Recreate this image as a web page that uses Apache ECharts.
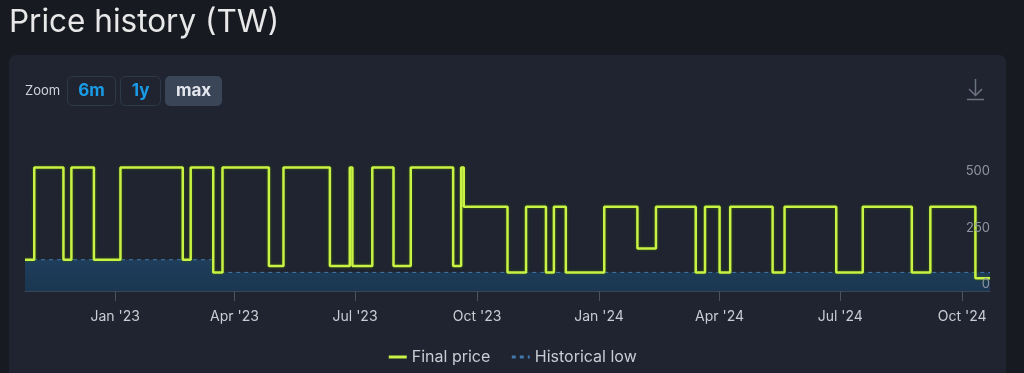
<!DOCTYPE html>
<html>
<head>
<meta charset="utf-8">
<style>
html,body{margin:0;padding:0;background:#171a21;}
#chart{width:1024px;height:373px;}
</style>
<script src="https://cdn.jsdelivr.net/npm/echarts@6/dist/echarts.min.js"></script>
</head>
<body>
<div id="chart"></div>
<script>
// ---- data ----
const priceDates = ['2022-10-25','2022-11-01','2022-11-23','2022-11-29','2022-12-16','2023-01-05','2023-02-21','2023-02-27','2023-03-16','2023-03-23',
  '2023-04-27','2023-05-08','2023-06-12','2023-06-27','2023-06-29','2023-07-14','2023-07-30','2023-08-12','2023-09-13','2023-09-19',
  '2023-09-21','2023-10-24','2023-11-07','2023-11-22','2023-11-28','2023-12-07','2024-01-05','2024-01-30','2024-02-13','2024-03-14',
  '2024-03-21','2024-04-01','2024-04-09','2024-05-11','2024-05-20','2024-06-28','2024-07-18','2024-08-24','2024-09-07','2024-10-11',
  '2024-10-22'];
const priceValues = [138,545,138,545,138,545,138,545,82,545,
  110,545,110,545,110,545,110,545,110,545,
  372,82,372,82,372,82,372,188,372,82,
  372,82,372,82,372,82,372,82,372,56,
  56];
const lowDates = ['2022-10-25','2023-03-16','2024-10-22'];
const lowValues = [138,82,82];
const tickDates = ['2023-01-01','2023-04-01','2023-07-01','2023-10-01','2024-01-01','2024-04-01','2024-07-01','2024-10-01'];
const tickLabels = ["Jan '23","Apr '23","Jul '23","Oct '23","Jan '24","Apr '24","Jul '24","Oct '24"];
const yTicks = [0,250,500];

function ts(s){const p=s.split('-').map(Number);return Date.UTC(p[0],p[1]-1,p[2]);}
const priceData = priceDates.map((d,i)=>[ts(d),priceValues[i]]);
const lowData = lowDates.map((d,i)=>[ts(d),lowValues[i]]);
const tickTs = tickDates.map(ts);

const FONT = 'Inter, "Noto Sans", sans-serif';
const chart = echarts.init(document.getElementById('chart'), null, {renderer:'canvas'});
chart.setOption({
  backgroundColor:'#171a21',
  animation:false,
  textStyle:{fontFamily:FONT},
  graphic:[
    {type:'rect', z:-10, shape:{x:9,y:55,width:997,height:340,r:7}, style:{fill:'#1f2430'}},
    {type:'text', z:10, x:9, y:23, style:{text:'Price history (TW)', font:'400 31.5px '+FONT, fill:'#e8e8e8', textVerticalAlign:'middle'}},
    {type:'text', z:10, x:25, y:91, style:{text:'Zoom', font:'400 13px '+FONT, fill:'#cfd3da', textVerticalAlign:'middle'}},
    {type:'rect', z:10, shape:{x:67.5,y:76.5,width:48,height:29,r:5}, style:{fill:'#1f2430', stroke:'#2e3a4a', lineWidth:1}},
    {type:'text', z:11, x:91.5, y:91, style:{text:'6m', font:'700 17px '+FONT, fill:'#1a9be6', textAlign:'center', textVerticalAlign:'middle'}},
    {type:'rect', z:10, shape:{x:120.5,y:76.5,width:40,height:29,r:5}, style:{fill:'#1f2430', stroke:'#2e3a4a', lineWidth:1}},
    {type:'text', z:11, x:140.5, y:91, style:{text:'1y', font:'700 17px '+FONT, fill:'#1a9be6', textAlign:'center', textVerticalAlign:'middle'}},
    {type:'rect', z:10, shape:{x:165,y:76,width:57,height:30,r:5}, style:{fill:'#3a4558'}},
    {type:'text', z:11, x:193.5, y:91, style:{text:'max', font:'700 17px '+FONT, fill:'#e4e8ee', textAlign:'center', textVerticalAlign:'middle'}},
    {type:'polyline', z:10, shape:{points:[[975.5,79],[975.5,95]]}, style:{stroke:'#6b7380', lineWidth:1.5, fill:null}},
    {type:'polyline', z:10, shape:{points:[[969,89],[975.5,95.5],[982,89]]}, style:{stroke:'#6b7380', lineWidth:1.5, fill:null}},
    {type:'polyline', z:10, shape:{points:[[967,99.5],[984,99.5]]}, style:{stroke:'#6b7380', lineWidth:1.5, fill:null}}
  ],
  grid:{left:25, right:34, top:121, bottom:82, containLabel:false},
  legend:{
    top:344, left:'center', itemWidth:18, itemHeight:14, itemGap:20,
    itemStyle:{opacity:0},
    lineStyle:{width:3},
    textStyle:{color:'#c8ccd3', fontSize:16, fontFamily:FONT},
    data:['Final price','Historical low']
  },
  xAxis:{
    type:'value', min:ts(priceDates[0]), max:ts(priceDates[priceDates.length-1]),
    axisLine:{show:true, lineStyle:{color:'#3a4656', width:1}},
    axisTick:{show:true, length:10, lineStyle:{color:'#4a5363'}, customValues:tickTs},
    axisLabel:{color:'#c8cdd4', fontSize:14, margin:19, fontFamily:FONT, customValues:tickTs,
      formatter:function(v){const i=tickTs.indexOf(v);return i>=0?tickLabels[i]:'';}},
    splitLine:{show:false}
  },
  yAxis:{
    type:'value', position:'right', min:0, max:750, interval:250, z:10,
    axisLine:{show:false}, axisTick:{show:false}, splitLine:{show:false},
    axisLabel:{inside:true, margin:0, verticalAlign:'bottom', color:'#8f96a1', fontSize:13, fontFamily:FONT,
      customValues:yTicks, hideOverlap:false, showMinLabel:true,
      formatter:function(v){return String(v);}}
  },
  series:[
    {
      name:'Historical low', type:'line', step:'end', data:lowData, symbol:'none', z:2,
      lineStyle:{color:'#4079aa', width:1, type:[4,4]},
      itemStyle:{color:'#4079aa'},
      areaStyle:{color:new echarts.graphic.LinearGradient(0,0,0,1,[{offset:0,color:'#1e3e5c'},{offset:1,color:'#1b3650'}]), opacity:1}
    },
    {
      name:'Final price', type:'line', step:'end', data:priceData, symbol:'none', z:3,
      lineStyle:{color:'#c8f244', width:2.5, shadowColor:'rgba(60,100,0,0.8)', shadowBlur:3},
      itemStyle:{color:'#c8f244'}
    }
  ]
});
</script>
</body>
</html>
